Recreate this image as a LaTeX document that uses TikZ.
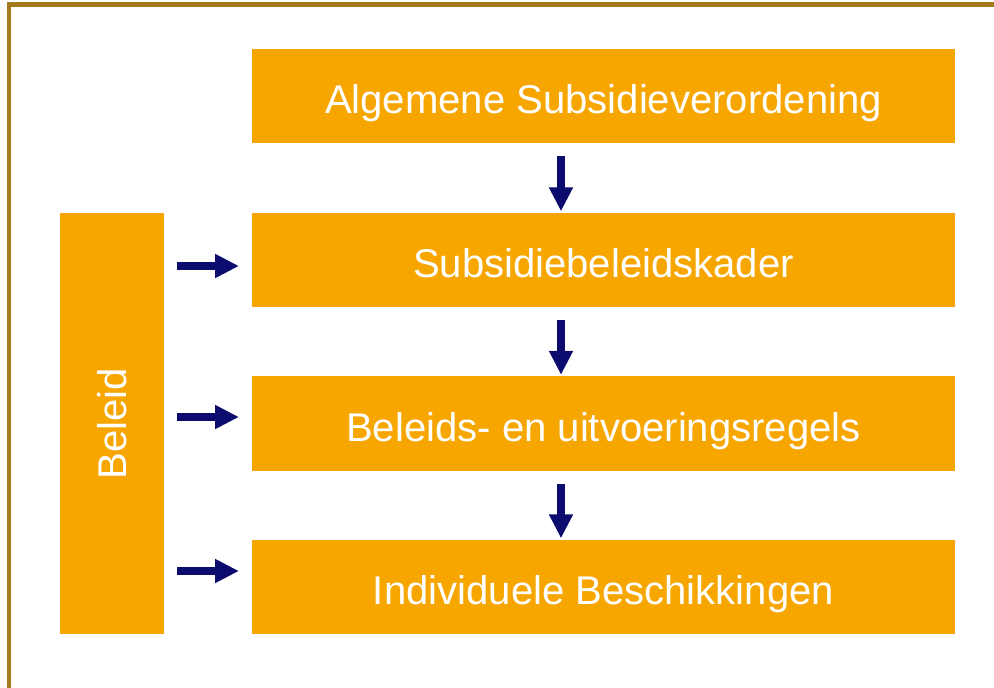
\documentclass[tikz,border=0pt]{standalone}
\usepackage{fontspec}
\setmainfont{Liberation Sans}
\usepackage{tikz}
\usetikzlibrary{arrows.meta}
\definecolor{boxorange}{HTML}{F7A600}
\definecolor{arrownavy}{HTML}{0C0C6E}
\definecolor{framegold}{HTML}{A47A1E}

\begin{document}
\begin{tikzpicture}[x=0.025cm, y=-0.025cm,
    level/.style={rectangle, fill=boxorange, text=white, minimum width=17.575cm, minimum height=2.35cm, inner sep=0pt, text height=25pt, text depth=0pt, font=\fontsize{28.5}{32}\selectfont},
    pijl/.style={draw=arrownavy, line width=5.5pt, -{Triangle[length=17pt, width=16pt]}}]
        \useasboundingbox (0,0) rectangle (994,687);
        % Frame
        \draw[framegold, line width=3pt] (9,690) -- (9,4.5) -- (1000,4.5);
        
        % Define the levels
        \node[level] (asv) at (603.5,96) {Algemene Subsidieverordening};
        \node[level] (kader) at (603.5,260) {Subsidiebeleidskader};
        \node[level] (regels) at (603.5,423.5) {Beleids- en uitvoeringsregels};
        \node[level] (besch) at (603.5,587) {Individuele Beschikkingen};
        
        % Side bar
        \node[rectangle, fill=boxorange, text=white, minimum width=2.6cm, minimum height=10.525cm, inner sep=0pt, font=\fontsize{28.5}{32}\selectfont] (beleid) at (112,423.5) {\rotatebox{90}{Beleid}};
        
        % Arrow positions
        \coordinate (pijlx) at (561,0);
        \coordinate (in1) at (252,266);
        \coordinate (in2) at (252,417);
        \coordinate (in3) at (252,571);
        
        % Define the arrows (down)
        \draw[pijl, shorten <=13*0.025cm, shorten >=1pt] (asv.south -| pijlx) -- (kader.north -| pijlx);
        \draw[pijl, shorten <=13*0.025cm, shorten >=1pt] (kader.south -| pijlx) -- (regels.north -| pijlx);
        \draw[pijl, shorten <=13*0.025cm, shorten >=1pt] (regels.south -| pijlx) -- (besch.north -| pijlx);
        
        % Define the arrows (right)
        \draw[pijl, shorten <=13*0.025cm, shorten >=13*0.025cm] (beleid.east |- in1) -- (in1);
        \draw[pijl, shorten <=13*0.025cm, shorten >=13*0.025cm] (beleid.east |- in2) -- (in2);
        \draw[pijl, shorten <=13*0.025cm, shorten >=13*0.025cm] (beleid.east |- in3) -- (in3);
        
    \end{tikzpicture}
\end{document}
